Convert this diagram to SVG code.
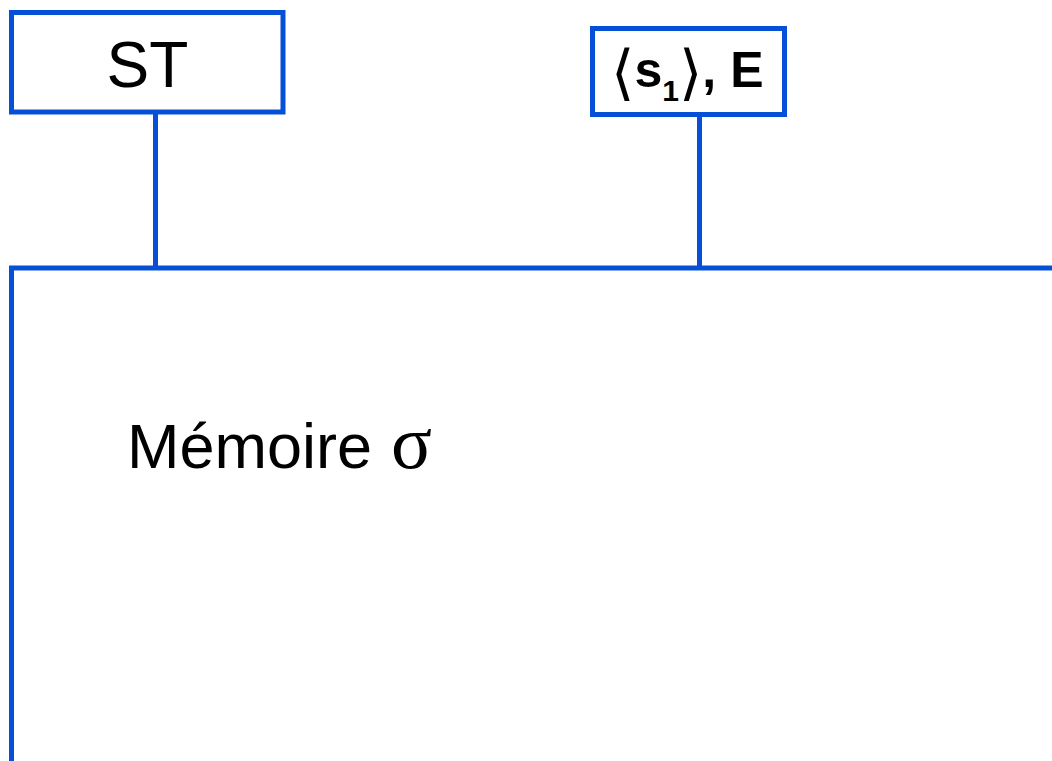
<svg xmlns="http://www.w3.org/2000/svg" width="1052" height="761" viewBox="0 0 1052 761">
  <style>
    .box { fill: #ffffff; stroke: #0650d8; stroke-width: 5; }
    .wire { fill: none; stroke: #0650d8; stroke-width: 5; }
    .label { font-family: "Liberation Sans", Arial, sans-serif; fill: #000000; }
    .bracket { font-family: "DejaVu Sans", sans-serif; font-weight: normal; font-size: 60px; }
    .greek { font-family: "Liberation Serif", "Times New Roman", serif; font-size: 76px; fill: #000000; }
  </style>
  <rect width="1052" height="761" fill="#ffffff"/>

  <!-- connectors: bus line, memory border and stubs -->
  <g id="connectors">
    <polyline class="wire" points="11.5,761 11.5,268 1052,268"/>
    <line class="wire" x1="155.5" y1="110" x2="155.5" y2="268"/>
    <line class="wire" x1="699.5" y1="112" x2="699.5" y2="268"/>
  </g>

  <g id="node-st">
    <rect class="box" x="11.5" y="12.5" width="271.5" height="99.5"/>
    <text class="label" x="147.5" y="87" font-size="64" text-anchor="middle">ST</text>
  </g>

  <g id="node-s1e">
    <rect class="box" x="592.5" y="28.5" width="192" height="86"/>
    <text class="label" x="611" y="87" font-size="50" font-weight="bold"><tspan class="bracket" dy="6">⟨</tspan><tspan dy="-6">s</tspan><tspan font-size="30" dy="14">1</tspan><tspan class="bracket" dy="-8">⟩</tspan><tspan dy="-6">, E</tspan></text>
  </g>

  <g id="node-memoire">
    <text class="label" x="127" y="468" font-size="63">Mémoire</text>
    <text class="greek" x="391" y="468">σ</text>
  </g>
</svg>
